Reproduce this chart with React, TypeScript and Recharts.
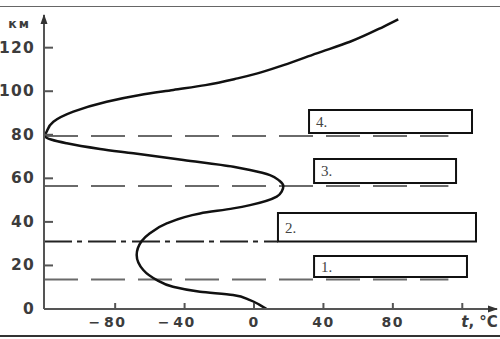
import React from 'react';
import { LineChart, Line, XAxis, YAxis, ReferenceLine, ReferenceArea } from 'recharts';

// Temperature profile of the atmosphere (altitude km -> temperature °C)
const altitudeKm = [0, 1.8, 4.1, 6.4, 7.9, 10.2, 13.3, 17.9, 24.8, 31.2, 34.8, 39.3, 43.9, 46.2, 47.7, 51.6, 54, 56.5, 59, 61.5, 63.8, 65.3, 68.4, 71.5, 73.5, 76.1, 79.3, 81.4, 86, 90.6, 95.2, 98.3, 100.6, 102.8, 105.9, 108.2, 112, 117.4, 122.7, 129.6, 133];
const temperatureC = [7.3, 3.5, -2.3, -12.1, -31.1, -46.7, -55.9, -63.8, -67.6, -64.7, -60, -50.3, -31.1, -12, -2.3, 13.1, 16, 16.9, 14.5, 9.2, -2.3, -11.9, -40.7, -69.5, -88.7, -107.9, -120.4, -119.5, -115.6, -104.1, -84.9, -65.7, -46.5, -28, -9.5, 2, 17, 36.1, 55.3, 74.5, 83.1];

const yTicks = [0, 20, 40, 60, 80, 100, 120];
const xTicks = [-80, -40, 0, 40, 80, 120];
const xDomain = [-121, 140];
const yDomain = [0, 135];

const dashedLevelsKm = [13.6, 56.5, 79.4];
const dashedLineEndC = 112;
const dashDotLevelKm = 31;
const dashDotEndC = 13.8;

const boxLabels = ['1.', '2.', '3.', '4.'];
const boxLeftC = [34.6, 13.8, 34.6, 31.7];
const boxRightC = [122.7, 127.9, 116.4, 125.6];
const boxBottomKm = [14.7, 31, 57.9, 80.8];
const boxTopKm = [24.3, 44.1, 68.9, 91.4];

const data = altitudeKm.map((alt, i) => ({ alt, temp: temperatureC[i] }));

const AXIS_COLOR = '#555';
const LABEL_COLOR = '#3c3c3c';
const LABEL_FONT = '"DejaVu Sans", sans-serif';
const Y_TICK_MARGIN = 9;
const X_TICK_MARGIN = 13;

function YTick(props: any) {
  const { x, y, payload } = props;
  const ax = x + Y_TICK_MARGIN;
  return (
    <g>
      <line x1={ax} x2={ax + 9} y1={y} y2={y} stroke={AXIS_COLOR} strokeWidth={2} />
      <text x={x} y={y} textAnchor="end" dominantBaseline="central" fill={LABEL_COLOR}
        fontFamily={LABEL_FONT} fontWeight="bold" fontSize={15.5} letterSpacing={1.2}>
        {payload.value}
      </text>
    </g>
  );
}

function XTick(props: any) {
  const { x, y, payload } = props;
  const ay = y - X_TICK_MARGIN;
  const v = payload.value as number;
  const common = { fill: LABEL_COLOR, fontFamily: LABEL_FONT, fontWeight: 'bold', fontSize: 14, dominantBaseline: 'central' } as any;
  let label: React.ReactNode;
  if (v === 120) {
    label = (
      <text x={x - 1} y={y} textAnchor="start" {...common} fontSize={15}>
        <tspan fontStyle="italic">t</tspan>, °C
      </text>
    );
  } else {
    const digits = String(Math.abs(v));
    label = (
      <g>
        {v < 0 && (
          <text x={x - 15} y={y} textAnchor="end" {...common}>−</text>
        )}
        <text x={x} y={y} textAnchor="middle" {...common} letterSpacing={1.5}>{digits}</text>
      </g>
    );
  }
  return (
    <g>
      <line x1={x} x2={x} y1={ay - 6} y2={ay} stroke={AXIS_COLOR} strokeWidth={2} />
      {label}
    </g>
  );
}

function YArrow(props: any) {
  const vb = props.viewBox || {};
  const ax = vb.x + vb.width;
  const top = vb.y;
  return (
    <g>
      <polygon points={`${ax},${top - 1} ${ax - 3.5},${top + 9} ${ax + 3.5},${top + 9}`} fill="#333" />
      <text x={ax - 13} y={top + 8} textAnchor="end" dominantBaseline="central" fill={LABEL_COLOR}
        fontFamily={LABEL_FONT} fontWeight="bold" fontSize={12.5} letterSpacing={2}>
        км
      </text>
    </g>
  );
}

function XArrow(props: any) {
  const vb = props.viewBox || {};
  const right = vb.x + vb.width;
  const ay = vb.y;
  return <polygon points={`${right + 1},${ay} ${right - 9},${ay - 3.5} ${right - 9},${ay + 3.5}`} fill="#333" />;
}

export default function App() {
  return (
    <div style={{ position: 'absolute', left: 0, top: 0, width: 500, height: 339, background: '#fff', overflow: 'hidden' }}>
      <div style={{ position: 'absolute', left: 0, top: 6, width: 500, height: 0, borderTop: '1.5px solid #666' }} />
      <div style={{ position: 'absolute', left: 0, top: 335, width: 500, height: 0, borderTop: '2.5px solid #333' }} />
      <div style={{ position: 'absolute', left: 0, top: 0 }}>
        <LineChart layout="vertical" data={data} width={500} height={339}
          margin={{ top: 15, right: 3, bottom: 0, left: 0 }}>
          <XAxis type="number" domain={xDomain} ticks={xTicks} interval={0} allowDataOverflow
            axisLine={{ stroke: AXIS_COLOR, strokeWidth: 2 }} tickLine={false} tickSize={0} tickMargin={X_TICK_MARGIN}
            height={30} tick={<XTick />} label={<XArrow />} />
          <YAxis type="number" dataKey="alt" domain={yDomain} ticks={yTicks} interval={0} allowDataOverflow reversed
            axisLine={{ stroke: AXIS_COLOR, strokeWidth: 2 }} tickLine={false} tickSize={0} tickMargin={Y_TICK_MARGIN}
            width={44} tick={<YTick />} label={<YArrow />} />
          {dashedLevelsKm.map((lvl) => (
            <ReferenceLine key={`d${lvl}`} segment={[{ x: xDomain[0], y: lvl }, { x: dashedLineEndC, y: lvl }]}
              stroke="#6a6a6a" strokeWidth={2} strokeDasharray="34 13" />
          ))}
          <ReferenceLine segment={[{ x: xDomain[0], y: dashDotLevelKm }, { x: dashDotEndC, y: dashDotLevelKm }]}
            stroke="#222" strokeWidth={2} strokeDasharray="28 5 5 6" />
          {boxLabels.map((lab, i) => (
            <ReferenceArea key={lab} x1={boxLeftC[i]} x2={boxRightC[i]} y1={boxBottomKm[i]} y2={boxTopKm[i]}
              fill="#fff" fillOpacity={1} stroke="#111" strokeWidth={2}
              label={{ value: lab, position: 'insideLeft', offset: 7, fill: '#444', fontFamily: '"Liberation Serif", serif', fontSize: 15 }} />
          ))}
          <Line dataKey="temp" type="monotone" stroke="#111" strokeWidth={2.5} dot={false} isAnimationActive={false} />
        </LineChart>
      </div>
    </div>
  );
}
